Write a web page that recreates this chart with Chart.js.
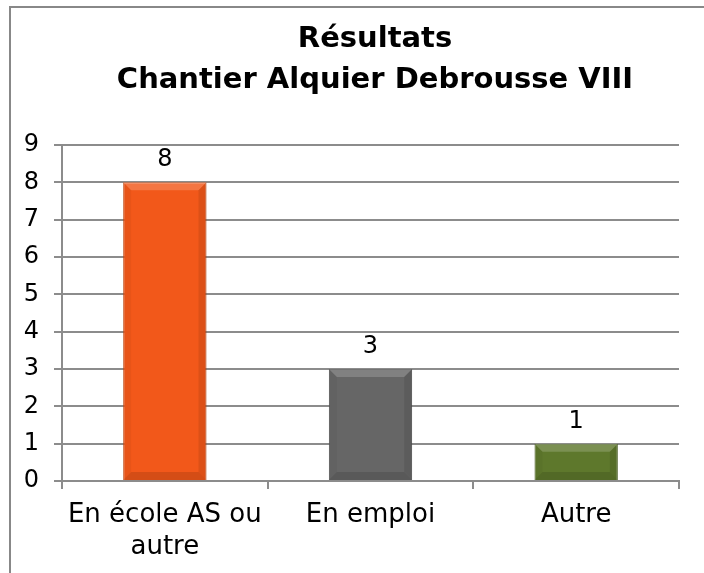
<!DOCTYPE html>
<html>
<head>
<meta charset="utf-8">
<script src="https://cdn.jsdelivr.net/npm/chart.js@4/dist/chart.umd.min.js"></script>
<style>
  html, body { margin: 0; padding: 0; background: #fff; overflow: hidden; }
  #frame { position: absolute; left: 9px; top: 6px; width: 800px; height: 700px; border: 2px solid #888; }
  #wrap { position: absolute; left: 0; top: 0; width: 704px; height: 573px; }
</style>
</head>
<body>
<div id="frame"></div>
<div id="wrap"><canvas id="myChart"></canvas></div>
<script>
const titleLines = ['Résultats', 'Chantier Alquier Debrousse VIII'];
const categories = [['En école AS ou', 'autre'], 'En emploi', 'Autre'];
const values = [8, 3, 1];
const barColors = ['#F2581A', '#666666', '#5E782C'];
const barBorders = ['#C9480F', '#555555', '#4C6322'];
const yMax = 9;

const FONT = "'DejaVu Sans', sans-serif";

// title drawn centred on the frame (not on the canvas)
const frameTitle = {
  id: 'frameTitle',
  afterDraw(chart) {
    const ctx = chart.ctx;
    ctx.save();
    ctx.font = 'bold 29px ' + FONT;
    ctx.fillStyle = '#000';
    ctx.textAlign = 'center';
    ctx.textBaseline = 'alphabetic';
    titleLines.forEach((t, i) => ctx.fillText(t, 375, 47 + i * 41));
    ctx.restore();
  }
};

// light bevel + value labels
const barDecor = {
  id: 'barDecor',
  afterDatasetsDraw(chart) {
    const ctx = chart.ctx;
    const meta = chart.getDatasetMeta(0);
    ctx.save();
    meta.data.forEach((bar) => {
      const w = bar.width, l = bar.x - w / 2, r = bar.x + w / 2, t = bar.y, b = bar.base;
      const e = Math.min(8, (b - t) / 3);
      ctx.fillStyle = 'rgba(255,255,255,0.18)';
      ctx.beginPath(); ctx.moveTo(l, t); ctx.lineTo(r, t); ctx.lineTo(r - e, t + e); ctx.lineTo(l + e, t + e); ctx.fill();
      ctx.fillStyle = 'rgba(0,0,0,0.12)';
      ctx.beginPath(); ctx.moveTo(l, b); ctx.lineTo(r, b); ctx.lineTo(r - e, b - e); ctx.lineTo(l + e, b - e); ctx.fill();
      ctx.fillStyle = 'rgba(0,0,0,0.04)';
      ctx.beginPath(); ctx.moveTo(l, t); ctx.lineTo(l + e, t + e); ctx.lineTo(l + e, b - e); ctx.lineTo(l, b); ctx.fill();
      ctx.fillStyle = 'rgba(0,0,0,0.09)';
      ctx.beginPath(); ctx.moveTo(r, t); ctx.lineTo(r - e, t + e); ctx.lineTo(r - e, b - e); ctx.lineTo(r, b); ctx.fill();
    });
    ctx.font = '24px ' + FONT;
    ctx.fillStyle = '#000';
    ctx.textAlign = 'center';
    ctx.textBaseline = 'alphabetic';
    meta.data.forEach((bar, i) => {
      ctx.fillText(String(values[i]), bar.x, bar.y - 16);
    });
    ctx.restore();
  }
};

new Chart('myChart', {
  type: 'bar',
  data: {
    labels: categories,
    datasets: [{
      data: values,
      backgroundColor: barColors,
      borderColor: barBorders,
      borderWidth: 1,
      categoryPercentage: 1,
      barPercentage: 0.405
    }]
  },
  options: {
    responsive: true,
    maintainAspectRatio: false,
    animation: false,
    layout: { padding: { left: 10, right: 25, top: 145, bottom: 0 } },
    plugins: {
      legend: { display: false },
      tooltip: { enabled: false },
      title: { display: false }
    },
    scales: {
      x: {
        afterFit: s => { s.height = 92; },
        grid: { offset: true, drawOnChartArea: false, drawTicks: true, tickLength: 8, color: '#8c8c8c', lineWidth: 2 },
        border: { display: true, color: '#8c8c8c', width: 2 },
        ticks: { color: '#000', padding: 10, font: { family: FONT, size: 26, lineHeight: 1.23 } }
      },
      y: {
        min: 0,
        max: yMax,
        afterFit: s => { s.width = 52; },
        grid: { color: '#8c8c8c', lineWidth: 2, tickLength: 8 },
        border: { display: true, color: '#8c8c8c', width: 2 },
        ticks: { stepSize: 1, color: '#000', padding: 15, font: { family: FONT, size: 24 } }
      }
    }
  },
  plugins: [barDecor, frameTitle]
});
</script>
</body>
</html>
